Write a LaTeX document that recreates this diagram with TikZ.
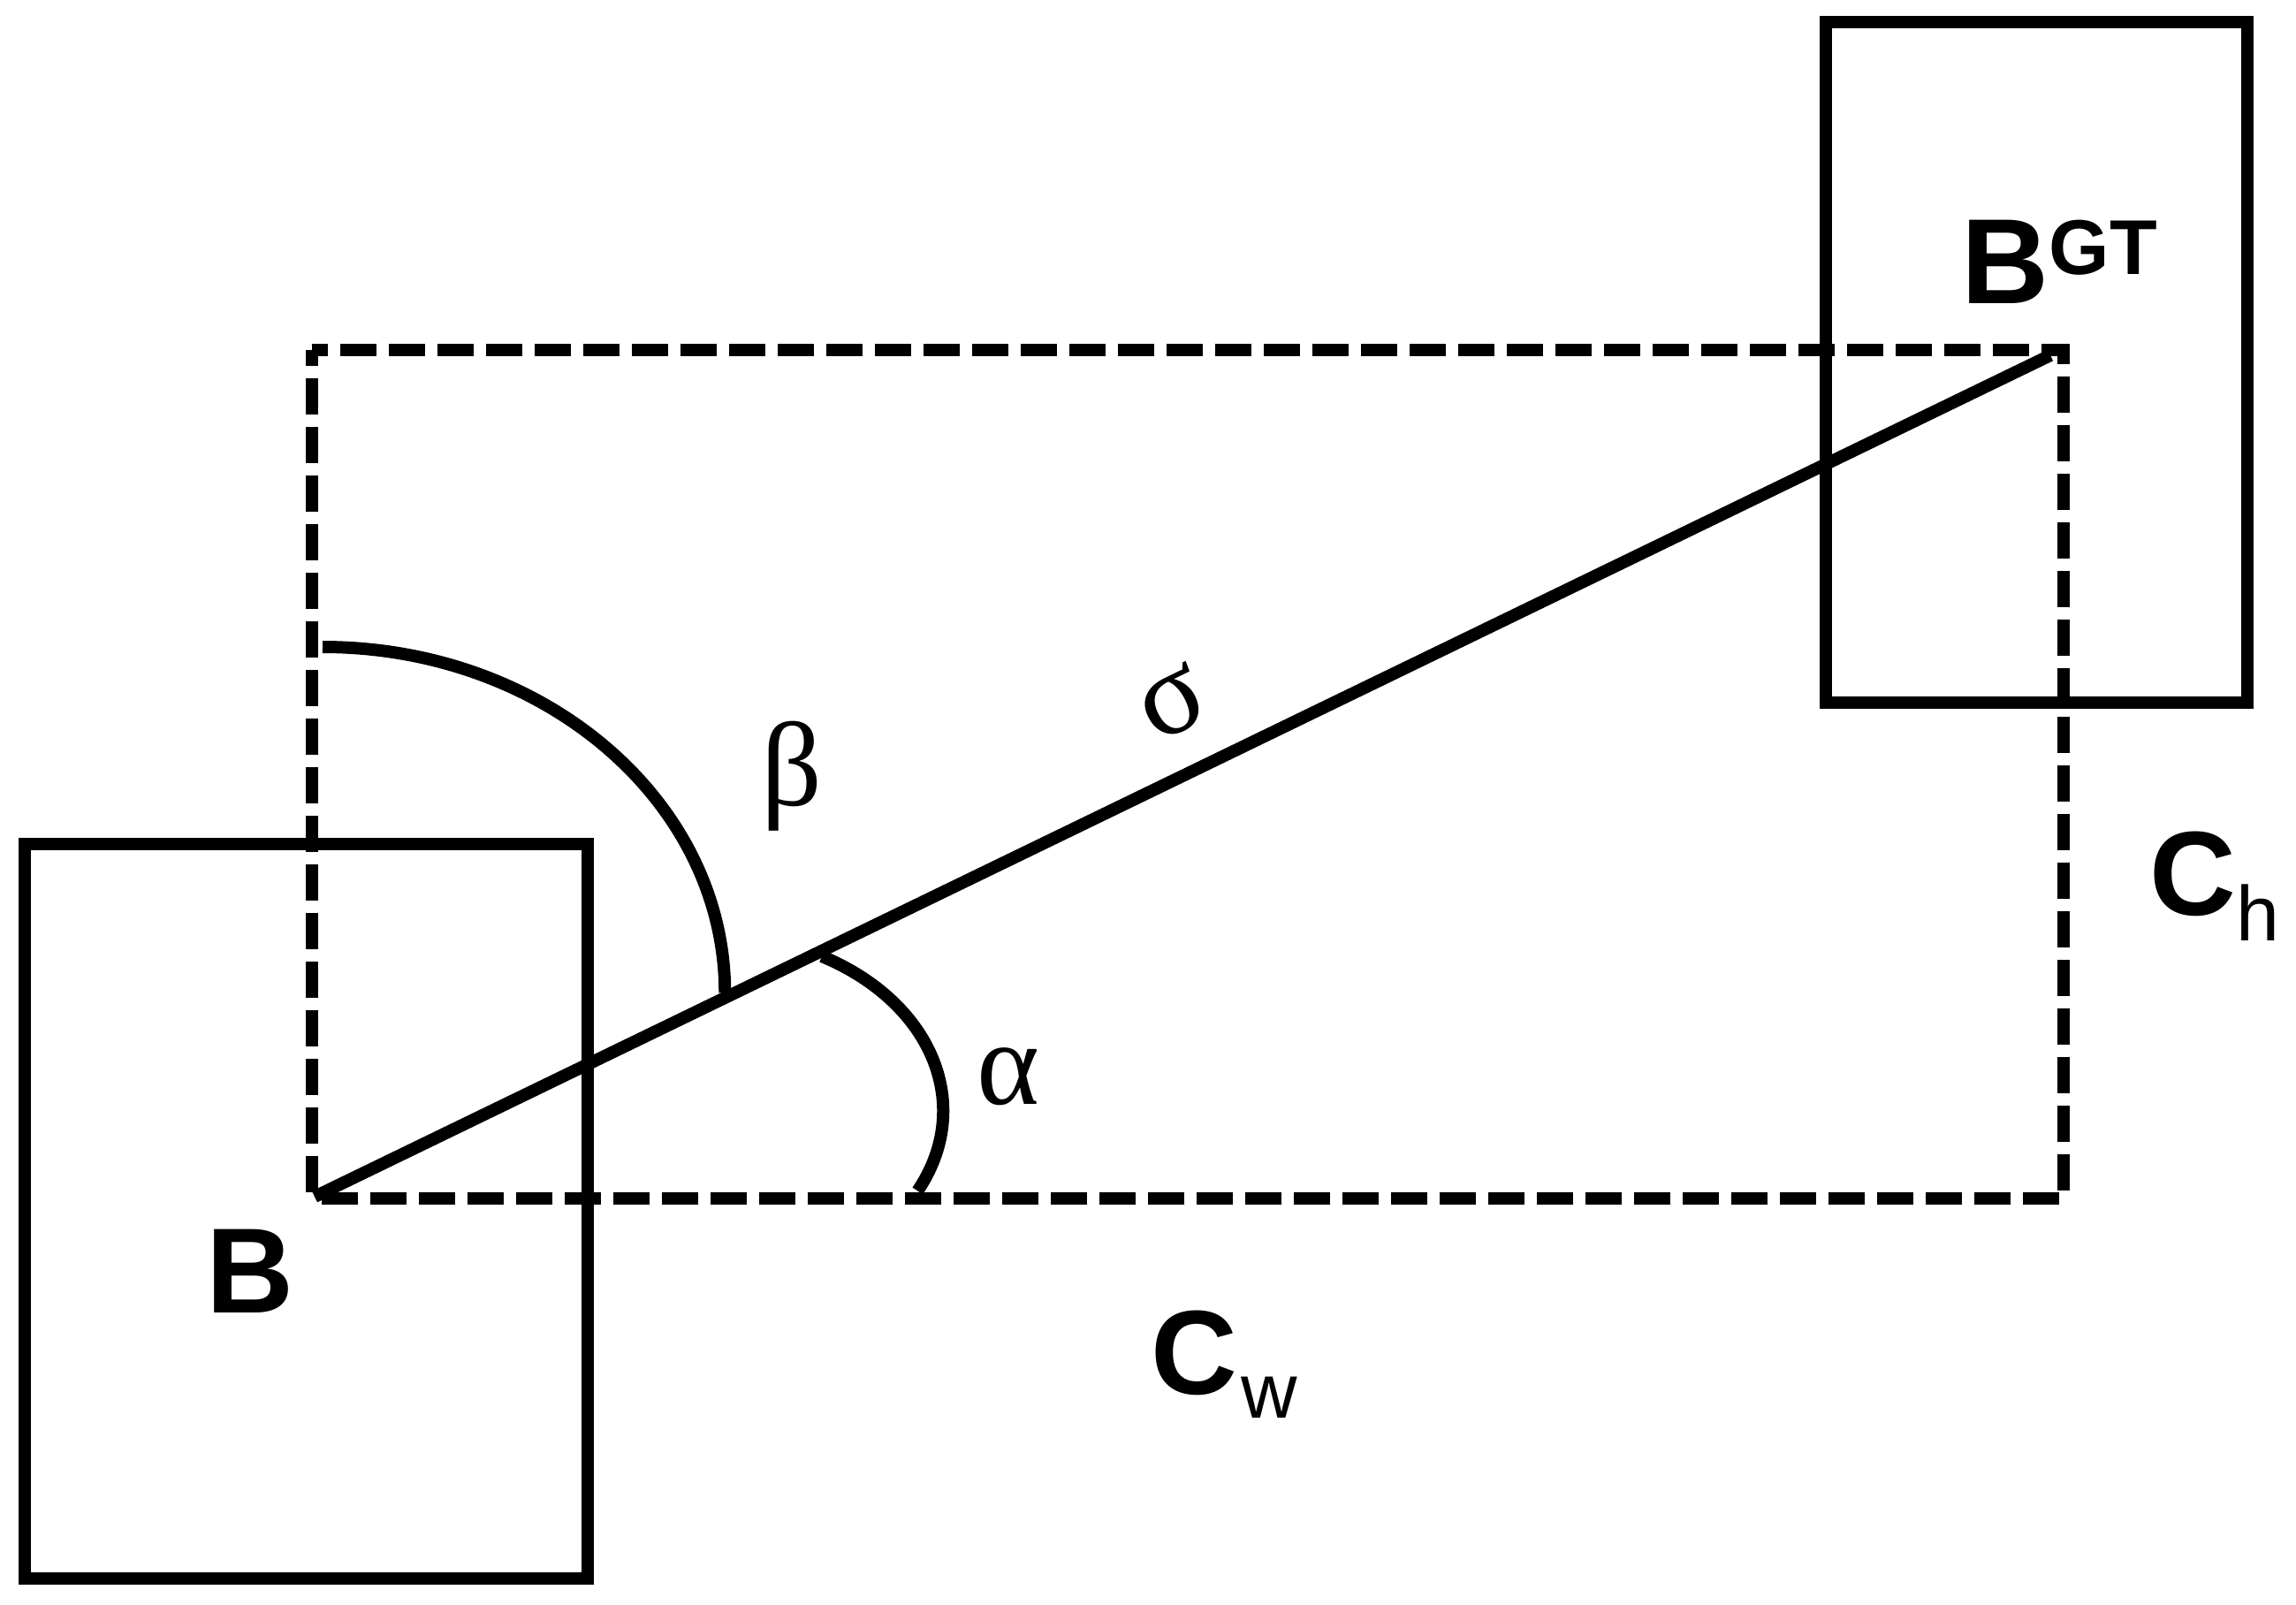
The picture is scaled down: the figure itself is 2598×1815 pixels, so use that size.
\documentclass[tikz,border=0pt]{standalone}
\usepackage{fontspec}
\setmainfont{Liberation Sans}
\newfontfamily\greekfont{Liberation Serif}
\begin{document}
\begin{tikzpicture}[x=0.01cm,y=-0.01cm,
  solidline/.style={line width=3.98pt,line join=miter,black},
  dashline/.style={line width=3.98pt,black,dash pattern=on 11.66pt off 3.98pt,dash phase=6.5pt},
  bigbold/.style={inner sep=0pt,anchor=base west,font=\fontsize{39}{40}\selectfont\bfseries},
  bigc/.style={inner sep=0pt,anchor=base west,font=\fontsize{38.5}{40}\selectfont\bfseries},
  smallsup/.style={inner sep=0pt,anchor=base west,font=\fontsize{25}{26}\selectfont\bfseries},
  smallsub/.style={inner sep=0pt,anchor=base west,font=\fontsize{25}{26}\selectfont},
  greeklbl/.style={inner sep=0pt,anchor=center,font=\fontsize{38.5}{40}\selectfont\greekfont}]
\useasboundingbox (0,0) rectangle (2598,1815);
% corners
\coordinate (TL) at (352.5,396);
\coordinate (TR) at (2335,396);
\coordinate (BR) at (2335,1356);
\coordinate (BL) at (352.5,1356);
% dashed rectangle
\draw[dashline] (TL) -- (BL);
\draw[dashline] (TL) -- (TR) -- (BR) -- (BL);
% boxes
\draw[solidline] (28,955) rectangle (665,1786);
\draw[solidline] (2066,25) rectangle (2543,795);
% diagonal line
\coordinate (P0) at (356,1354);
\coordinate (P1) at (2320,402);
\draw[solidline] (P0) -- (P1);
% angle arcs
\draw[solidline] (365,732) arc[start angle=90,end angle=0,x radius=4.55cm,y radius=3.91cm];
\draw[solidline] (930,1082) arc[start angle=60.9,end angle=-26.9,x radius=2.67cm,y radius=2.00cm];
% labels
\node[bigbold] (bgt) at (2219,343) {B};
\node[smallsup] (gt) at (2318,310) {GT};
\node[bigbold] (b) at (233,1485) {B};
\node[bigc] (cw) at (1302,1577) {C};
\node[smallsub] (w) at (1404,1604) {w};
\node[bigc] (ch) at (2432,1035) {C};
\node[smallsub] (h) at (2530,1064) {h};
\node[greeklbl] (beta) at (896,878) {β};
\node[greeklbl] (alpha) at (1141,1218) {α};
\node[greeklbl,rotate=25.9] (sigma) at (1326,795) {σ};
\end{tikzpicture}
\end{document}
